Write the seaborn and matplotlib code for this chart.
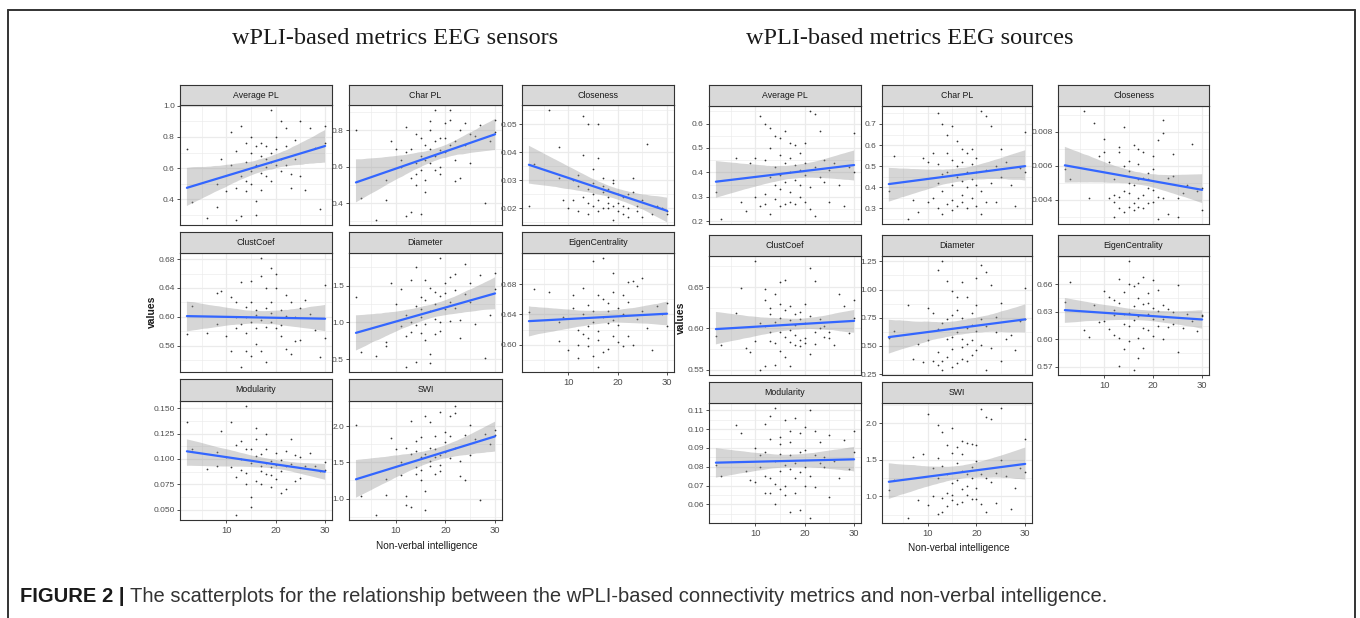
import matplotlib
matplotlib.use("Agg")
import matplotlib.pyplot as plt
from matplotlib.lines import Line2D
from matplotlib.ticker import AutoMinorLocator, FixedLocator
import seaborn as sns

sns.set_theme(style="white")
plt.rcParams["font.family"] = ["Liberation Sans Narrow", "Liberation Sans", "DejaVu Sans"]

W, H = 1360, 618

# %% data -- sensors (shared x: non-verbal intelligence score)
sens_x = [2, 3, 6, 8, 8, 9, 10, 11, 11, 12, 12, 12, 13, 13, 13, 14, 14, 14, 14, 15,
          15, 15, 15, 16, 16, 16, 16, 17, 17, 17, 17, 18, 18, 18, 18, 19, 19, 19, 19, 20,
          20, 20, 21, 21, 21, 22, 22, 22, 23, 23, 24, 24, 25, 25, 26, 27, 28, 29, 30, 30]

sens_avg_pl = [0.72, 0.38, 0.28, 0.50, 0.35, 0.66, 0.45, 0.83, 0.62, 0.27, 0.47, 0.71, 0.87, 0.29, 0.55,
               0.52, 0.76, 0.45, 0.64, 0.80, 0.58, 0.50, 0.70, 0.39, 0.62, 0.30, 0.74, 0.46, 0.68, 0.57,
               0.76, 0.55, 0.61, 0.66, 0.74, 0.97, 0.52, 0.64, 0.70, 0.80, 0.62, 0.72, 0.90, 0.58, 0.66,
               0.74, 0.86, 0.62, 0.47, 0.56, 0.66, 0.78, 0.90, 0.55, 0.46, 0.86, 0.73, 0.34, 0.87, 0.76]
sens_char_pl = [0.80, 0.43, 0.31, 0.42, 0.53, 0.74, 0.70, 0.64, 0.60, 0.33, 0.68, 0.82, 0.35, 0.70, 0.54,
                0.78, 0.62, 0.50, 0.56, 0.66, 0.76, 0.34, 0.58, 0.46, 0.72, 0.64, 0.53, 0.85, 0.70, 0.62,
                0.80, 0.91, 0.66, 0.58, 0.74, 0.60, 0.69, 0.56, 0.76, 0.76, 0.84, 0.68, 0.91, 0.72, 0.86,
                0.64, 0.74, 0.52, 0.54, 0.80, 0.84, 0.72, 0.62, 0.78, 0.77, 0.83, 0.40, 0.74, 0.86, 0.79]
sens_closeness = [0.021, 0.036, 0.055, 0.042, 0.031, 0.023, 0.020, 0.023, 0.030, 0.032, 0.019, 0.028,
                  0.053, 0.039, 0.024, 0.050, 0.027, 0.022, 0.018, 0.034, 0.029, 0.021, 0.025, 0.050,
                  0.038, 0.023, 0.019, 0.031, 0.026, 0.020, 0.028, 0.024, 0.020, 0.027, 0.022, 0.029,
                  0.016, 0.021, 0.030, 0.025, 0.019, 0.022, 0.024, 0.018, 0.021, 0.017, 0.020, 0.025,
                  0.031, 0.026, 0.021, 0.019, 0.023, 0.017, 0.043, 0.018, 0.021, 0.020, 0.018, 0.019]
sens_clustcoef = [0.576, 0.615, 0.578, 0.633, 0.590, 0.636, 0.574, 0.553, 0.628, 0.600, 0.620, 0.584,
                  0.648, 0.590, 0.531, 0.600, 0.552, 0.614, 0.578, 0.650, 0.593, 0.545, 0.620, 0.610,
                  0.563, 0.585, 0.603, 0.681, 0.656, 0.553, 0.596, 0.538, 0.612, 0.586, 0.640, 0.668,
                  0.605, 0.593, 0.620, 0.660, 0.640, 0.584, 0.610, 0.588, 0.574, 0.556, 0.601, 0.630,
                  0.620, 0.548, 0.600, 0.566, 0.612, 0.568, 0.623, 0.604, 0.582, 0.544, 0.570, 0.644]
sens_diameter = [1.34, 0.60, 0.55, 0.74, 0.68, 1.54, 1.25, 0.95, 1.46, 0.82, 1.10, 0.40, 1.58, 0.87, 1.00,
                 1.75, 1.22, 0.46, 0.96, 0.86, 1.35, 1.07, 1.18, 0.76, 1.58, 1.30, 0.98, 0.57, 1.47, 1.15,
                 0.45, 1.42, 1.05, 1.25, 0.84, 1.87, 1.00, 1.36, 0.88, 1.53, 1.18, 1.40, 1.28, 1.62, 1.02,
                 1.66, 1.44, 1.20, 0.79, 1.03, 1.79, 1.38, 1.53, 1.28, 0.98, 1.65, 0.51, 1.10, 1.67, 1.45]
sens_eigen = [0.643, 0.674, 0.670, 0.630, 0.605, 0.636, 0.593, 0.665, 0.648, 0.600, 0.620, 0.583,
              0.675, 0.614, 0.641, 0.598, 0.652, 0.624, 0.609, 0.710, 0.630, 0.585, 0.645, 0.606,
              0.666, 0.571, 0.618, 0.714, 0.590, 0.660, 0.637, 0.655, 0.628, 0.594, 0.645, 0.695,
              0.670, 0.633, 0.612, 0.604, 0.648, 0.626, 0.666, 0.640, 0.598, 0.683, 0.611, 0.656,
              0.684, 0.600, 0.677, 0.634, 0.688, 0.645, 0.622, 0.593, 0.651, 0.640, 0.624, 0.655]
sens_modularity = [0.137, 0.110, 0.090, 0.107, 0.093, 0.128, 0.102, 0.137, 0.092, 0.045, 0.082, 0.114,
                   0.118, 0.089, 0.100, 0.152, 0.075, 0.110, 0.086, 0.062, 0.053, 0.096, 0.110, 0.131,
                   0.078, 0.120, 0.103, 0.075, 0.105, 0.093, 0.088, 0.125, 0.085, 0.110, 0.096, 0.098,
                   0.072, 0.092, 0.084, 0.080, 0.106, 0.094, 0.066, 0.099, 0.088, 0.070, 0.108, 0.093,
                   0.120, 0.095, 0.078, 0.104, 0.081, 0.102, 0.093, 0.106, 0.093, 0.088, 0.097, 0.089]
sens_swi = [2.01, 1.03, 0.78, 1.05, 1.27, 1.84, 1.68, 1.32, 1.50, 1.04, 1.70, 0.91, 2.07, 0.88, 1.62,
            1.34, 1.80, 1.44, 1.66, 1.85, 1.26, 1.57, 1.40, 0.84, 2.14, 1.11, 1.62, 2.05, 1.45, 1.70,
            1.52, 1.58, 1.34, 1.86, 1.68, 2.19, 1.38, 1.60, 1.46, 1.64, 1.92, 1.78, 2.14, 1.56, 1.86,
            2.27, 1.70, 2.18, 1.31, 1.52, 1.25, 1.88, 2.02, 1.60, 1.82, 0.98, 1.89, 1.75, 1.95, 1.88]

# %% data -- sources
src_x = [2, 3, 6, 7, 8, 9, 10, 10, 11, 11, 12, 12, 12, 12, 13, 13, 13, 13, 14, 14, 14, 14,
         15, 15, 15, 15, 15, 16, 16, 16, 16, 17, 17, 17, 17, 17, 18, 18, 18, 18, 19, 19, 19, 19,
         20, 20, 20, 20, 21, 21, 21, 22, 22, 22, 23, 23, 24, 24, 25, 25, 26, 27, 28, 29, 30, 30]

src_avg_pl = [0.32, 0.21, 0.46, 0.28, 0.24, 0.44, 0.30, 0.46, 0.63, 0.26, 0.27, 0.45, 0.60, 0.31,
              0.58, 0.23, 0.38, 0.50, 0.55, 0.29, 0.42, 0.35, 0.54, 0.26, 0.47, 0.33, 0.39, 0.57,
              0.27, 0.44, 0.36, 0.52, 0.32, 0.40, 0.28, 0.46, 0.51, 0.37, 0.27, 0.43, 0.48, 0.30,
              0.35, 0.41, 0.52, 0.28, 0.39, 0.44, 0.65, 0.34, 0.25, 0.64, 0.42, 0.22, 0.57, 0.38,
              0.36, 0.45, 0.28, 0.41, 0.44, 0.35, 0.26, 0.42, 0.56, 0.40]
src_char_pl = [0.38, 0.55, 0.25, 0.34, 0.28, 0.54, 0.33, 0.52, 0.56, 0.35, 0.75, 0.42, 0.30, 0.51,
               0.70, 0.27, 0.38, 0.46, 0.65, 0.32, 0.47, 0.56, 0.69, 0.34, 0.41, 0.53, 0.29, 0.62,
               0.31, 0.45, 0.50, 0.58, 0.36, 0.43, 0.33, 0.52, 0.56, 0.40, 0.47, 0.30, 0.58, 0.35,
               0.44, 0.51, 0.47, 0.31, 0.41, 0.54, 0.76, 0.38, 0.27, 0.74, 0.48, 0.33, 0.69, 0.42,
               0.33, 0.50, 0.58, 0.45, 0.52, 0.41, 0.31, 0.49, 0.66, 0.47]
src_closeness = [0.0058, 0.0052, 0.0092, 0.0041, 0.0085, 0.0066, 0.0076, 0.0068, 0.0062, 0.0041,
                 0.0043, 0.0039, 0.0030, 0.0052, 0.0068, 0.0042, 0.0035, 0.0071, 0.0083, 0.0045,
                 0.0033, 0.0060, 0.0057, 0.0044, 0.0036, 0.0063, 0.0050, 0.0072, 0.0038, 0.0049,
                 0.0034, 0.0070, 0.0061, 0.0041, 0.0052, 0.0036, 0.0053, 0.0043, 0.0068, 0.0035,
                 0.0056, 0.0047, 0.0038, 0.0052, 0.0066, 0.0039, 0.0046, 0.0058, 0.0075, 0.0042,
                 0.0029, 0.0087, 0.0079, 0.0041, 0.0053, 0.0032, 0.0054, 0.0067, 0.0041, 0.0030,
                 0.0044, 0.0049, 0.0073, 0.0045, 0.0047, 0.0034]
src_clustcoef = [0.591, 0.580, 0.619, 0.649, 0.576, 0.571, 0.585, 0.681, 0.550, 0.606, 0.634, 0.554,
                 0.648, 0.603, 0.617, 0.585, 0.624, 0.596, 0.641, 0.556, 0.608, 0.582, 0.656, 0.573,
                 0.630, 0.595, 0.612, 0.659, 0.565, 0.622, 0.590, 0.627, 0.554, 0.610, 0.583, 0.598,
                 0.617, 0.580, 0.604, 0.592, 0.620, 0.586, 0.611, 0.578, 0.630, 0.588, 0.607, 0.582,
                 0.673, 0.569, 0.615, 0.657, 0.595, 0.581, 0.611, 0.600, 0.590, 0.603, 0.588, 0.596,
                 0.580, 0.641, 0.627, 0.594, 0.634, 0.612]
src_diameter = [0.57, 0.63, 0.86, 0.38, 0.52, 0.36, 0.84, 0.55, 0.79, 0.37, 1.17, 0.45, 0.65, 0.33,
                1.25, 0.37, 0.70, 0.29, 1.08, 0.56, 0.74, 0.40, 0.99, 0.31, 0.58, 0.77, 0.47, 0.93,
                0.35, 0.62, 0.82, 1.07, 0.49, 0.75, 0.38, 0.56, 0.93, 0.37, 0.66, 0.52, 0.79, 0.42,
                0.69, 0.55, 0.86, 0.46, 0.63, 1.10, 1.22, 0.51, 0.74, 1.16, 0.29, 0.68, 1.04, 0.48,
                0.62, 0.76, 0.88, 0.37, 0.56, 0.60, 0.46, 0.72, 1.01, 0.74]
src_eigen = [0.641, 0.663, 0.610, 0.603, 0.637, 0.619, 0.653, 0.620, 0.646, 0.611, 0.627, 0.605,
             0.643, 0.632, 0.666, 0.571, 0.602, 0.640, 0.628, 0.590, 0.652, 0.617, 0.685, 0.598,
             0.629, 0.660, 0.615, 0.658, 0.567, 0.636, 0.621, 0.661, 0.602, 0.625, 0.580, 0.645,
             0.668, 0.591, 0.638, 0.612, 0.650, 0.628, 0.610, 0.640, 0.665, 0.604, 0.622, 0.634,
             0.654, 0.615, 0.631, 0.637, 0.600, 0.622, 0.633, 0.614, 0.617, 0.630, 0.659, 0.586,
             0.612, 0.628, 0.620, 0.609, 0.626, 0.627]
src_modularity = [0.081, 0.075, 0.102, 0.098, 0.078, 0.073, 0.090, 0.072, 0.086, 0.080, 0.103, 0.066,
                  0.088, 0.075, 0.107, 0.074, 0.095, 0.066, 0.111, 0.060, 0.083, 0.071, 0.096, 0.068,
                  0.087, 0.078, 0.092, 0.105, 0.065, 0.081, 0.070, 0.099, 0.056, 0.086, 0.079, 0.093,
                  0.106, 0.066, 0.082, 0.074, 0.098, 0.057, 0.088, 0.077, 0.101, 0.070, 0.089, 0.080,
                  0.110, 0.053, 0.075, 0.099, 0.069, 0.086, 0.082, 0.093, 0.080, 0.085, 0.097, 0.064,
                  0.083, 0.074, 0.094, 0.079, 0.099, 0.088]
src_swi = [1.08, 1.22, 0.71, 1.54, 0.95, 1.58, 2.13, 0.88, 1.38, 1.01, 1.97, 0.76, 1.25, 1.52,
           1.88, 0.98, 1.42, 0.79, 1.70, 0.87, 1.30, 1.05, 1.93, 0.95, 1.59, 1.18, 1.02, 1.68,
           0.90, 1.46, 1.22, 1.76, 0.92, 1.35, 1.10, 1.58, 1.73, 1.02, 1.30, 1.14, 1.72, 0.96,
           1.40, 1.25, 1.70, 0.97, 1.48, 1.12, 2.19, 0.89, 1.31, 2.09, 0.78, 1.25, 2.05, 1.19,
           0.91, 1.32, 2.20, 1.50, 1.28, 0.82, 1.12, 1.38, 1.78, 1.33]

# facet titles and y tick labels, in facet order
metric_names = ["Average PL", "Char PL", "Closeness", "ClustCoef", "Diameter",
                "EigenCentrality", "Modularity", "SWI"]
sens_values = [sens_avg_pl, sens_char_pl, sens_closeness, sens_clustcoef,
               sens_diameter, sens_eigen, sens_modularity, sens_swi]
src_values = [src_avg_pl, src_char_pl, src_closeness, src_clustcoef,
              src_diameter, src_eigen, src_modularity, src_swi]
sens_yticks = [["0.4", "0.6", "0.8", "1.0"], ["0.4", "0.6", "0.8"],
               ["0.02", "0.03", "0.04", "0.05"], ["0.56", "0.60", "0.64", "0.68"],
               ["0.5", "1.0", "1.5"], ["0.60", "0.64", "0.68"],
               ["0.050", "0.075", "0.100", "0.125", "0.150"], ["1.0", "1.5", "2.0"]]
src_yticks = [["0.2", "0.3", "0.4", "0.5", "0.6"], ["0.3", "0.4", "0.5", "0.6", "0.7"],
              ["0.004", "0.006", "0.008"], ["0.55", "0.60", "0.65"],
              ["0.25", "0.50", "0.75", "1.00", "1.25"], ["0.57", "0.60", "0.63", "0.66"],
              ["0.06", "0.07", "0.08", "0.09", "0.10", "0.11"], ["1.0", "1.5", "2.0"]]
x_ticks = [10, 20, 30]

# %% layout (pixels): column edges, rows as (strip top, panel top, panel bottom)
sens_cols = [(180, 332), (349, 502), (522, 674)]
sens_rows = [(85, 105, 225), (232, 253, 372), (379, 401, 520)]
src_cols = [(709, 861), (882, 1032), (1058, 1209)]
src_rows = [(85, 106, 224), (235, 256, 375), (382, 403, 523)]

GRID = "#EBEBEB"
DARK = "#333333"


def fig_box(l, t, r, b):
    return [l / W, 1 - b / H, (r - l) / W, (b - t) / H]


def draw_panel(fig, col, row, name, x, y, tick_labels, show_x):
    l, r = col
    st, pt, pb = row
    ax = fig.add_axes(fig_box(l, pt, r, pb))
    sns.regplot(x=x, y=y, ax=ax, ci=95, truncate=True,
                scatter_kws={"s": 1.6, "color": "black", "linewidths": 0},
                line_kws={"color": "#3366FF", "lw": 1.6})
    # ggplot-like grey confidence ribbon
    for coll in ax.collections[1:]:
        coll.set_facecolor("#999999")
        coll.set_alpha(0.4)
        coll.set_edgecolor("none")
    ax.set_xlabel("")
    ax.set_ylabel("")
    ax.set_xlim(0.6, 31.4)
    lo, hi = min(y), max(y)
    pad = (hi - lo) * 0.05
    ax.set_ylim(lo - pad, hi + pad)
    ax.xaxis.set_major_locator(FixedLocator(x_ticks))
    ax.xaxis.set_minor_locator(AutoMinorLocator(2))
    ax.set_yticks([float(t) for t in tick_labels])
    ax.set_yticklabels(tick_labels)
    ax.yaxis.set_minor_locator(AutoMinorLocator(2))
    ax.set_facecolor("white")
    ax.grid(True, which="major", color=GRID, lw=0.9)
    ax.grid(True, which="minor", color=GRID, lw=0.45)
    ax.set_axisbelow(True)
    for sp in ax.spines.values():
        sp.set_visible(True)
        sp.set_color(DARK)
        sp.set_linewidth(0.8)
    ax.tick_params(axis="y", which="major", left=True, length=2.5, width=0.6,
                   color=DARK, labelsize=6, labelcolor="#4D4D4D", pad=1.2)
    ax.tick_params(which="minor", length=0)
    if show_x:
        ax.tick_params(axis="x", which="major", bottom=True, length=2.5, width=0.6,
                       color=DARK, labelsize=6.8, labelcolor="#4D4D4D", pad=2)
    else:
        ax.tick_params(axis="x", which="major", bottom=False, labelbottom=False)

    # strip on top of the panel
    sax = fig.add_axes(fig_box(l, st, r, pt))
    sax.set_facecolor("#D9D9D9")
    sax.set_xticks([])
    sax.set_yticks([])
    for sp in sax.spines.values():
        sp.set_visible(True)
        sp.set_color(DARK)
        sp.set_linewidth(0.8)
    sax.text(0.5, 0.5, name, ha="center", va="center", fontsize=6.3,
             color="#1A1A1A", transform=sax.transAxes)
    return ax


def draw_block(fig, cols, rows, x, values, ticks, title, title_x, ylab_pos, xlab_y):
    for i, (name, y, tl) in enumerate(zip(metric_names, values, ticks)):
        r, c = divmod(i, 3)
        # bottom panel of each column carries the x axis labels
        show_x = (r == 2) or (r == 1 and c == 2)
        draw_panel(fig, cols[c], rows[r], name, x, y, tl, show_x)
    fig.text(title_x / W, 1 - 38 / H, title, ha="center", va="center", fontsize=17.5,
             family=["Liberation Serif", "DejaVu Serif"], color="#1A1A1A")
    fig.text(ylab_pos[0] / W, 1 - ylab_pos[1] / H, "values", rotation=90, ha="center",
             va="center", fontsize=7.5, fontweight="bold", color="#1A1A1A",
             family=["Liberation Sans", "DejaVu Sans"])
    xc = (cols[0][0] + cols[2][1]) / 2
    fig.text(xc / W, 1 - xlab_y / H, "Non-verbal intelligence", ha="center", va="center",
             fontsize=7.2, color="#1A1A1A")


fig = plt.figure(figsize=(W / 100, H / 100), dpi=100)
fig.patch.set_facecolor("white")

draw_block(fig, sens_cols, sens_rows, sens_x, sens_values, sens_yticks,
           "wPLI-based metrics EEG sensors", 395, (152, 312), 546)
draw_block(fig, src_cols, src_rows, src_x, src_values, src_yticks,
           "wPLI-based metrics EEG sources", 910, (681, 318), 548)

# outer frame of the figure box
for xs, ys in [((8, 8), (10, 618)), ((8, 1355), (10, 10)), ((1355, 1355), (10, 618))]:
    fig.add_artist(Line2D([x / W for x in xs], [1 - y / H for y in ys],
                          color="#333333", lw=1.4, transform=fig.transFigure))

# caption
cap_y = 1 - 597 / H
bold = fig.text(20 / W, cap_y, "FIGURE 2 | ", ha="left", va="center", fontsize=14.5,
                fontweight="bold", color="#1A1A1A", family=["Liberation Sans", "DejaVu Sans"])
fig.canvas.draw()
bb = bold.get_window_extent()
fig.text(bb.x1 / W, cap_y,
         "The scatterplots for the relationship between the wPLI-based connectivity metrics and non-verbal intelligence.",
         ha="left", va="center", fontsize=14.5, color="#333333",
         family=["Liberation Sans", "DejaVu Sans"])

fig.savefig("out.png", dpi=100, facecolor="white")
